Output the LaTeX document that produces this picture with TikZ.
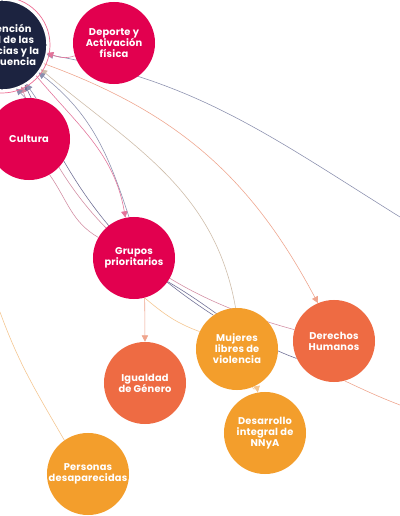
\documentclass[tikz,border=0pt]{standalone}
\usepackage{fontspec}
\setmainfont{Poppins}[LetterSpace=2]
\usetikzlibrary{arrows.meta, backgrounds}
\definecolor{mapnavy}{HTML}{1C2340}
\definecolor{mapcrimson}{HTML}{E2004F}
\definecolor{mapcoral}{HTML}{EE6B43}
\definecolor{maporange}{HTML}{F39E2C}
\definecolor{mapring}{HTML}{EE6F95}
\definecolor{linkgray}{HTML}{8A8FAE}
\definecolor{linknavy}{HTML}{6E6E94}
\definecolor{linkpink}{HTML}{E3739A}
\definecolor{linkrose}{HTML}{D28CA2}
\definecolor{linksalmon}{HTML}{EFA48C}
\definecolor{linktan}{HTML}{CDBBA8}
\definecolor{linkpeach}{HTML}{F5C58E}

\tikzset{
  topic/.style={circle, fill=#1, text=white, minimum size=2.05cm, inner sep=0pt,
    align=center, font=\bfseries\fontsize{7}{7.8}\selectfont},
  link/.style={line width=0.4pt, draw=#1},
  headed/.style={-{Triangle[length=4.5pt,width=4.5pt]}}
}

\begin{document}
\begin{tikzpicture}[x=0.025cm, y=0.025cm]
  \useasboundingbox (0,0) rectangle (400,516);
  \clip (0,0) rectangle (400,516);

  % Topics
  \node[topic=mapnavy, minimum size=2.25cm, draw=white, line width=1pt] (dark) at (2,471)
    {Prevención\\social de las\\violencias y la\\delincuencia};
  \draw[mapring, line width=0.5pt] (dark) circle[radius=1.2cm];
  \node[topic=mapcrimson] (deporte) at (114,473) {Deporte y\\Activación\\física};
  \node[topic=mapcrimson] (cultura) at (29,377) {Cultura};
  \node[topic=mapcrimson] (grupos) at (134,258) {Grupos\\prioritarios};
  \node[topic=mapcoral] (igualdad) at (145,133) {Igualdad\\de Género};
  \node[topic=maporange] (mujeres) at (237,167) {Mujeres\\libres de\\violencia};
  \node[topic=mapcoral] (derechos) at (334,175) {Derechos\\Humanos};
  \node[topic=maporange] (desarrollo) at (265,83) {Desarrollo\\integral de\\NNyA};
  \node[topic=maporange] (personas) at (88,42) {Personas\\desaparecidas};

  % Loose ends at the border
  \coordinate (exitR) at (400,299);
  \coordinate (exitD) at (400,111);
  \coordinate (exitL) at (0,204);

  \begin{scope}[on background layer]
    \fill[white] (0,0) rectangle (400,516);

    % Links into the navy topic
    \draw[link=linkgray, headed] (exitR) to[out=148,in=-10] (dark.-12);
    \draw[link=linktan, headed] (mujeres.92) to[out=100,in=-40] (dark.-32);
    \draw[link=linkpink, headed] (deporte.198) to[out=200,in=-20] (dark.-10);
    \draw[link=linkgray, headed] (grupos.97) to[out=108,in=-38] (dark.-37);
    \draw[link=linknavy, headed] (mujeres.125) to[out=147,in=-65] (dark.-60);
    \draw[link=linkrose, headed] (derechos.164) to[out=165,in=-70] (dark.-65);
    \draw[link=linkgray, headed] (cultura.95) -- (dark.-72);
    \draw[link=linkgray, headed] (cultura.80) -- (dark.-58);

    % Links out of the navy topic
    \draw[link=linksalmon, headed] (dark.-24) to[out=-20,in=118] (derechos.113);
    \draw[link=linkpink, headed] (dark.-42) to[out=-50,in=100] (grupos.102);

    % Other links
    \draw[link=linkrose] (cultura.-60) to[out=-55,in=150] (grupos.150);
    \draw[link=linknavy] (grupos.-35) to[out=-30,in=160] (derechos.205);
    \draw[link=linkpeach] (grupos.-75) to[out=-40,in=160] (mujeres.155);
    \draw[link=linksalmon, headed] (grupos.-75) -- (igualdad.90);
    \draw[link=linkpeach, headed] (mujeres.-68) to[out=-80,in=100] (desarrollo.100);
    \draw[link=linksalmon] (derechos.-75) to[out=-25,in=159] (exitD);
    \draw[link=linkpeach] (exitL) to[out=-70,in=120] (personas.125);
  \end{scope}
\end{tikzpicture}
\end{document}
